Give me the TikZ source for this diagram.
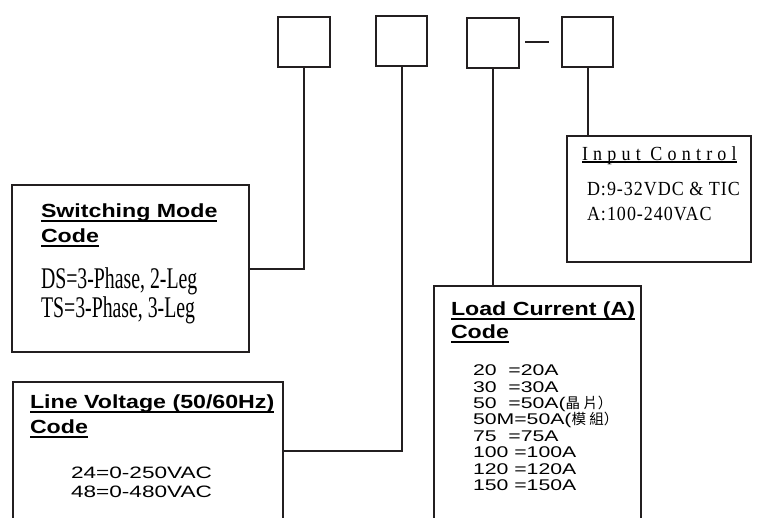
\documentclass[tikz,border=0pt]{standalone}
\usepackage{fontspec}
\setmainfont{Liberation Sans}
\newfontfamily\titlefont[FakeStretch=1.22]{Liberation Sans}
\newfontfamily\valfont[FakeStretch=1.37]{Liberation Sans}
\newfontfamily\condfont[FakeStretch=0.66]{Liberation Serif}
\newfontfamily\icfont[FakeStretch=0.9,LetterSpace=5]{Liberation Serif}
\newfontfamily\ictitlefont[FakeStretch=0.9,LetterSpace=26]{Liberation Serif}
\newfontfamily\cjk{Noto Sans CJK TC}
\definecolor{ink}{RGB}{35,31,32}
\newcommand\myul[2]{\sbox0{#2}\rlap{\rule[-#1]{\wd0}{1.1pt}}\usebox0}
\newcommand\zh[1]{{\cjk\fontsize{14.5}{15}\selectfont #1}}
\tikzset{
  bigbox/.style={draw=ink, line width=2pt, rectangle, inner sep=0pt, outer sep=0pt, anchor=north west},
  topbox/.style={draw=ink, line width=1.4pt, rectangle, inner sep=0pt, outer sep=0pt, anchor=north west, minimum width=51pt, minimum height=50pt},
  link/.style={draw=ink, line width=2pt},
  txt/.style={anchor=base west, inner sep=0pt, outer sep=0pt, text=black},
  ttl/.style={txt, font=\titlefont\bfseries\fontsize{19}{22}\selectfont},
  val/.style={txt, font=\valfont\fontsize{16.5}{19}\selectfont},
  row/.style={txt, font=\valfont\fontsize{15.5}{16.4}\selectfont},
  cond/.style={txt, font=\condfont\fontsize{30}{32}\selectfont},
}
\begin{document}
\begin{tikzpicture}[x=1pt,y=-1pt]
\useasboundingbox (0,0) rectangle (758,517);
\clip (0,0) rectangle (758,517);
% top code boxes
\node[topbox, minimum width=52pt] (b1) at (278,17) {};
\node[topbox] (b2) at (376,16) {};
\node[topbox, minimum width=52pt] (b3) at (467,18) {};
\node[topbox] (b4) at (562,17) {};
\coordinate (d1) at (525,42);
\coordinate (d2) at (549,42);
\draw[draw=ink, line width=1.3pt] (d1) -- (d2);
% description boxes
\node[bigbox, minimum width=237pt, minimum height=167pt] (sw) at (12,185) {};
\node[bigbox, minimum width=270pt, minimum height=138pt] (lv) at (13,382) {};
\node[bigbox, minimum width=207pt, minimum height=254pt] (lc) at (434,286) {};
\node[bigbox, minimum width=184pt, minimum height=126pt] (ic) at (567,136) {};
% connectors
\draw[link] (b1.south) |- (sw.east);
\draw[link] (b2.south) |- (lv.east);
\draw[link] (b3.south) -- (b3.south |- lc.north);
\draw[link] (b4.south) -- (b4.south |- ic.north);
% switching mode
\node[ttl] (swt1) at (41,217) {\myul{4.5pt}{Switching Mode}};
\node[ttl] (swt2) at (41,242) {\myul{4.5pt}{Code}};
\node[cond] (sw1) at (41,288) {DS=3-Phase, 2-Leg};
\node[cond] (sw2) at (41,317) {TS=3-Phase, 3-Leg};
% line voltage
\node[ttl] (lvt1) at (30,408) {\myul{4.5pt}{Line Voltage (50/60Hz)}};
\node[ttl] (lvt2) at (30,433) {\myul{4.5pt}{Code}};
\node[val] (lv1) at (71,478) {24=0-250VAC};
\node[val] (lv2) at (71,497) {48=0-480VAC};
% load current
\node[ttl] (lct1) at (451,315) {\myul{4.5pt}{Load Current (A)}};
\node[ttl] (lct2) at (451,338) {\myul{4.5pt}{Code}};
\node[row] (r1) at (473,375) {20\ \ =20A};
\node[row] (r2) at (473,392) {30\ \ =30A};
\node[row] (r3) at (473,408) {50\ \ =50A(\zh{晶 片）}};
\node[row] (r4) at (473,424) {50M=50A(\zh{模 組）}};
\node[row] (r5) at (473,441) {75\ \ =75A};
\node[row] (r6) at (473,457) {100 =100A};
\node[row] (r7) at (473,474) {120 =120A};
\node[row] (r8) at (473,490) {150 =150A};
% input control
\node[txt, font=\ictitlefont\fontsize{20}{22}\selectfont] (ict) at (582,160) {\myul{2.5pt}{Input Control}};
\node[txt, font=\icfont\fontsize{20}{22}\selectfont] (ic1) at (587,195) {D:9-32VDC \& TIC};
\node[txt, font=\icfont\fontsize{20}{22}\selectfont] (ic2) at (587,220) {A:100-240VAC};
\end{tikzpicture}
\end{document}
